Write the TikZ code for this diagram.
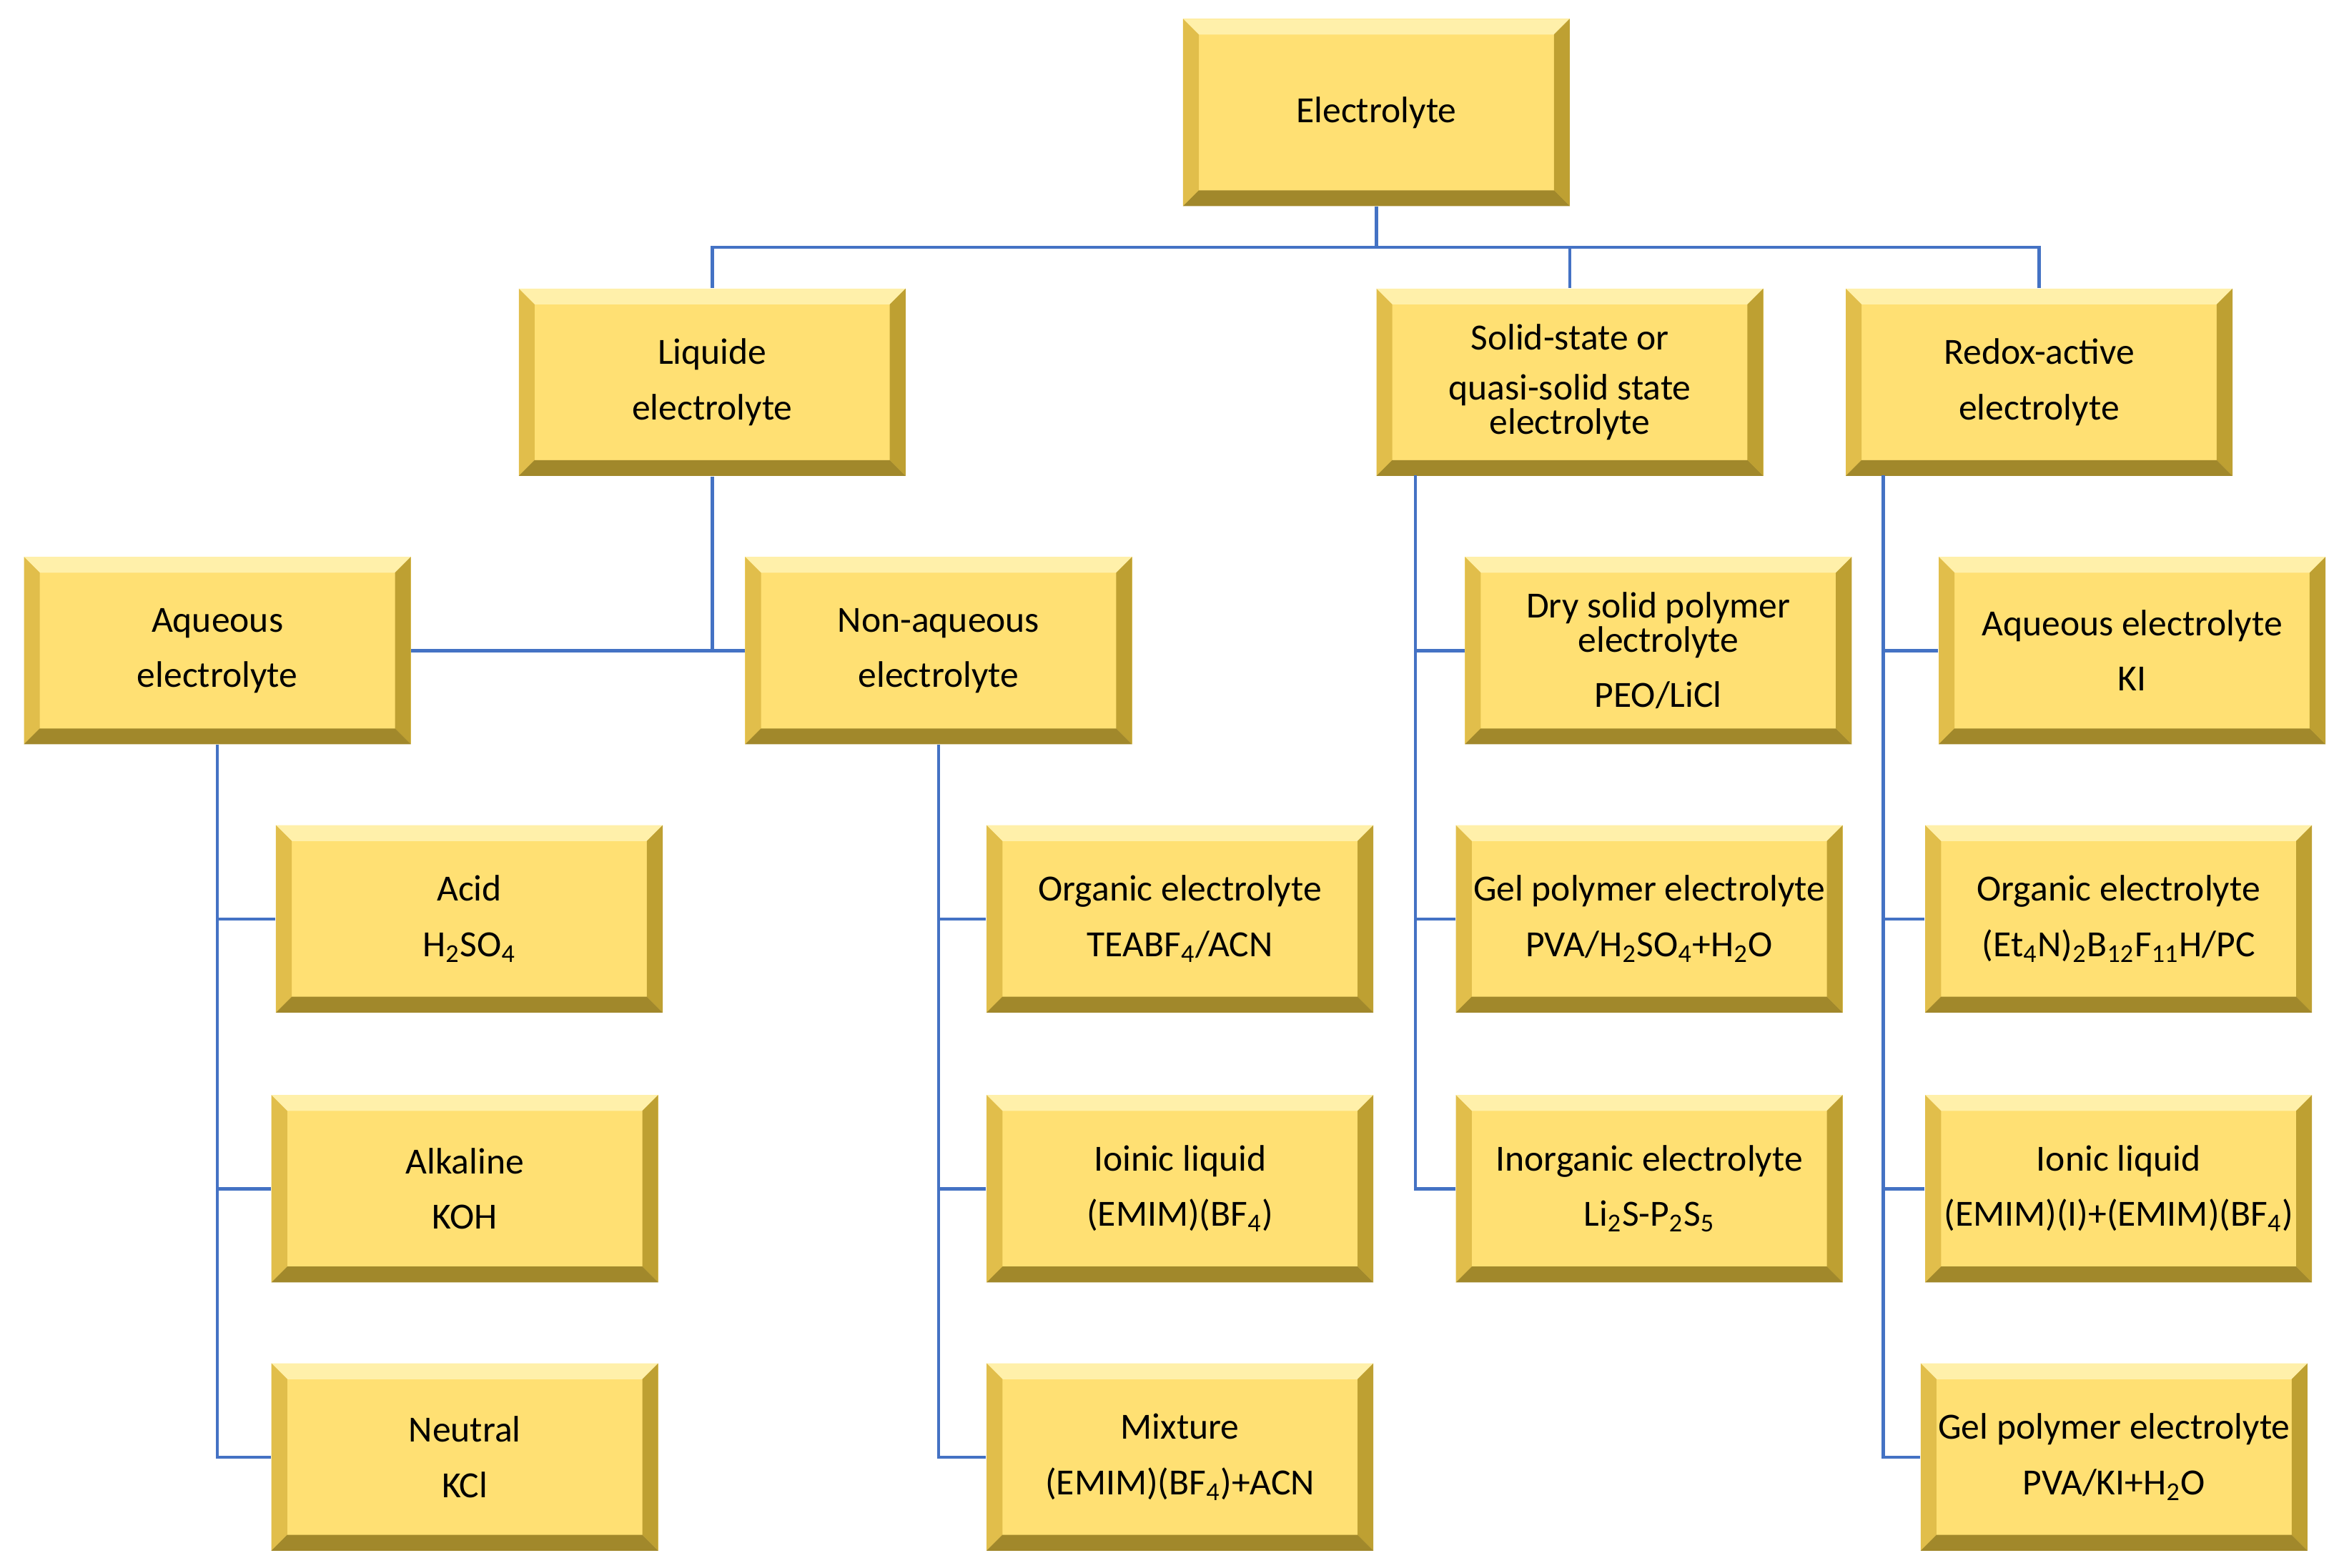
\documentclass[tikz,border=0pt]{standalone}
\usepackage{fontspec}
\setmainfont{Carlito}
\usepackage{tikz}
\definecolor{gold}{RGB}{255,224,115}
\definecolor{goldhi}{RGB}{255,240,170}
\definecolor{goldlo}{RGB}{190,160,50}
\definecolor{goldmid}{RGB}{225,190,75}
\definecolor{linkblue}{RGB}{68,114,196}
\tikzset{
  box/.style={fill=gold,minimum width=5.16cm,minimum height=2.5cm,inner sep=0pt,
    align=center,font=\fontsize{14}{21}\selectfont,
    path picture={
      \fill[goldhi] (path picture bounding box.north west) -- (path picture bounding box.north east)
        -- ([shift={(-6pt,-6pt)}]path picture bounding box.north east) -- ([shift={(6pt,-6pt)}]path picture bounding box.north west) -- cycle;
      \fill[goldmid] (path picture bounding box.north west) -- (path picture bounding box.south west)
        -- ([shift={(6pt,6pt)}]path picture bounding box.south west) -- ([shift={(6pt,-6pt)}]path picture bounding box.north west) -- cycle;
      \fill[goldlo] (path picture bounding box.north east) -- (path picture bounding box.south east)
        -- ([shift={(-6pt,6pt)}]path picture bounding box.south east) -- ([shift={(-6pt,-6pt)}]path picture bounding box.north east) -- cycle;
      \fill[goldlo!85!black] (path picture bounding box.south west) -- (path picture bounding box.south east)
        -- ([shift={(-6pt,6pt)}]path picture bounding box.south east) -- ([shift={(6pt,6pt)}]path picture bounding box.south west) -- cycle;
    }},
  link/.style={draw=linkblue,line width=1.2pt}
}
\begin{document}
\begin{tikzpicture}[x=0.02cm,y=-0.02cm]
\useasboundingbox (0,0) rectangle (1560,1046);
% top levels
\node[box] (root) at (918,75) {Electrolyte};
\node[box] (liq) at (475,255) {Liquide\\electrolyte};
\node[box] (sol) at (1047,255) {Solid-state or\\[-2pt]quasi-solid state\\[-8pt]electrolyte};
\node[box] (red) at (1360,255) {Redox-active\\electrolyte};
\node[box] (aq) at (145,434) {Aqueous\\electrolyte};
\node[box] (naq) at (626,434) {Non-aqueous\\electrolyte};
\node[box] (dry) at (1106,434) {Dry solid polymer\\[-8pt]electrolyte\\PEO/LiCl};
\node[box] (aki) at (1422,434) {Aqueous electrolyte\\KI};
% third row
\node[box] (acid) at (313,613) {Acid\\H\textsubscript{2}SO\textsubscript{4}};
\node[box] (org) at (787,613) {Organic electrolyte\\TEABF\textsubscript{4}/ACN};
\node[box] (gel) at (1100,613) {Gel polymer\ electrolyte\\PVA/H\textsubscript{2}SO\textsubscript{4}+H\textsubscript{2}O};
\node[box] (org2) at (1413,613) {Organic electrolyte\\(Et\textsubscript{4}N)\textsubscript{2}B\textsubscript{12}F\textsubscript{11}H/PC};
\node[box] (alk) at (310,793) {Alkaline\\KOH};
\node[box] (ioi) at (787,793) {Ioinic liquid\\(EMIM)(BF\textsubscript{4})};
\node[box] (ino) at (1100,793) {Inorganic electrolyte\\Li\textsubscript{2}S-P\textsubscript{2}S\textsubscript{5}};
\node[box] (ion) at (1413,793) {Ionic liquid\\(EMIM)(I)+(EMIM)(BF\textsubscript{4})};
\node[box] (neu) at (310,972) {Neutral\\KCl};
\node[box] (mix) at (787,972) {Mixture\\(EMIM)(BF\textsubscript{4})+ACN};
\node[box] (gel2) at (1410,972) {Gel polymer\ electrolyte\\PVA/KI+H\textsubscript{2}O};
% connectors
\coordinate (hub) at (918,165);
\draw[link] (root.south) -- (hub) -| (liq.north);
\draw[link] (hub) -| (sol.north);
\draw[link] (hub) -| (red.north);
\draw[link] (liq.south) -- (liq.south |- aq.east);
\draw[link] (aq.east) -- (naq.west);
\draw[link] (aq.south) |- (neu.west);
\draw[link] (aq.south |- acid.west) -- (acid.west);
\draw[link] (aq.south |- alk.west) -- (alk.west);
\draw[link] (naq.south) |- (mix.west);
\draw[link] (naq.south |- org.west) -- (org.west);
\draw[link] (naq.south |- ioi.west) -- (ioi.west);
\coordinate (solT) at (944,317);
\draw[link] (solT) |- (ino.west);
\draw[link] (solT |- dry.west) -- (dry.west);
\draw[link] (solT |- gel.west) -- (gel.west);
\coordinate (redT) at (1256,317);
\draw[link] (redT) |- (gel2.west);
\draw[link] (redT |- aki.west) -- (aki.west);
\draw[link] (redT |- org2.west) -- (org2.west);
\draw[link] (redT |- ion.west) -- (ion.west);
\end{tikzpicture}
\end{document}
